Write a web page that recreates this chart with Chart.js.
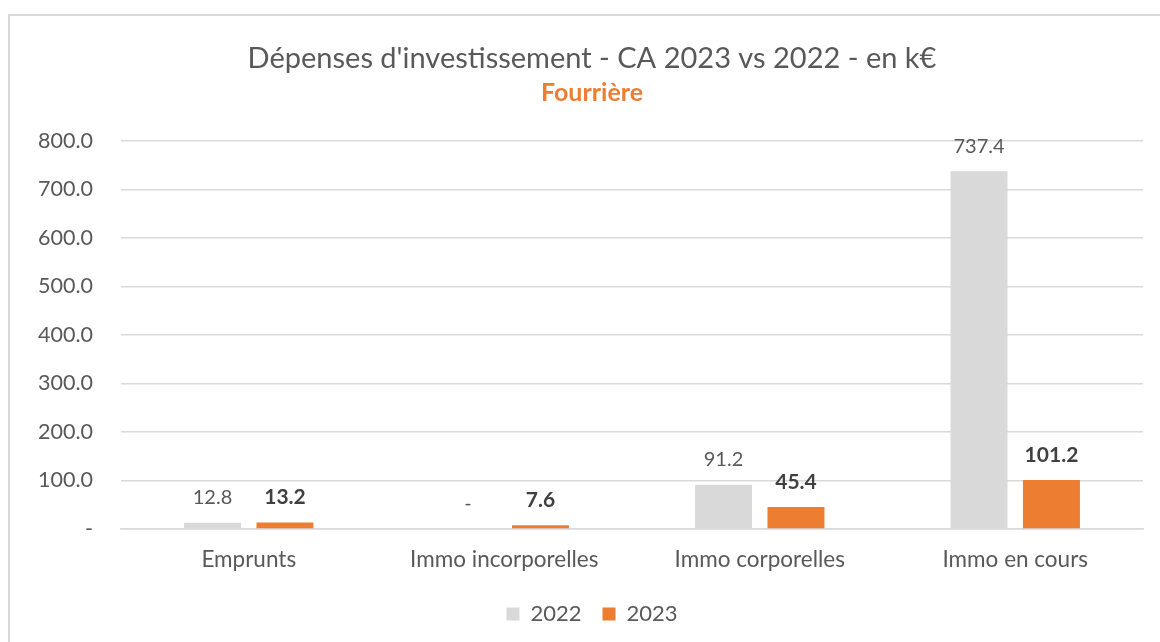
<!DOCTYPE html>
<html>
<head>
<meta charset="utf-8">
<script src="https://cdn.jsdelivr.net/npm/chart.js@4"></script>
<style>
  html, body { margin: 0; padding: 0; background: #fff; }
  #wrap { position: relative; width: 1160px; height: 642px; overflow: hidden; }
  #frame { position: absolute; left: 8px; top: 14px; width: 1200px; height: 700px; border: 2px solid #d9d9d9; box-sizing: border-box; }
  #chart { position: absolute; left: 0; top: 0; }
</style>
</head>
<body>
<div id="wrap">
  <div id="frame"></div>
  <canvas id="chart" width="1160" height="642"></canvas>
</div>
<script>
// Data
const categories = ["Emprunts", "Immo incorporelles", "Immo corporelles", "Immo en cours"];
const values2022 = [12.8, 0, 91.2, 737.4];
const values2023 = [13.2, 7.6, 45.4, 101.2];
const seriesLabels = ["2022", "2023"];
const yTicks = [0, 100, 200, 300, 400, 500, 600, 700, 800];

const FONT = "Lato, 'Open Sans', sans-serif";
const TEXT = "#595959";

function fmt(v) {
  return v === 0 ? "-" : v.toFixed(1);
}

// Value labels above each bar (no datalabels plugin available)
const barLabels = {
  id: "barLabels",
  afterDatasetsDraw(chart) {
    const ctx = chart.ctx;
    chart.data.datasets.forEach((ds, i) => {
      const meta = chart.getDatasetMeta(i);
      meta.data.forEach((bar, j) => {
        ctx.save();
        if (i === 1) {
          ctx.font = "bold 21px " + FONT;
          ctx.fillStyle = "#404040";
        } else {
          ctx.font = "20px " + FONT;
          ctx.fillStyle = TEXT;
        }
        ctx.textAlign = "center";
        ctx.textBaseline = "middle";
        ctx.fillText(fmt(ds.data[j]), bar.x, bar.y - 25);
        ctx.restore();
      });
    });
  }
};

// The original frame is wider than the visible crop, so title and legend sit a bit right of centre
const shiftBlocks = {
  id: "shiftBlocks",
  afterLayout(chart) {
    chart.boxes.forEach(b => {
      if (b.axis === undefined) b.left += 41;
    });
  }
};

new Chart(document.getElementById("chart"), {
  type: "bar",
  data: {
    labels: categories,
    datasets: [
      { label: seriesLabels[0], data: values2022, backgroundColor: "#d9d9d9" },
      { label: seriesLabels[1], data: values2023, backgroundColor: "#ed7d31" }
    ]
  },
  options: {
    responsive: false,
    animation: false,
    devicePixelRatio: 1,
    categoryPercentage: 0.567,
    barPercentage: 0.786,
    layout: { padding: { left: 0, right: 17, top: 24, bottom: 7 } },
    plugins: {
      title: {
        display: true,
        text: "Dépenses d'investissement - CA 2023 vs 2022 - en k€",
        color: TEXT,
        font: { family: FONT, size: 29, weight: "normal" },
        padding: { top: 17, bottom: 2 }
      },
      subtitle: {
        display: true,
        text: "Fourrière",
        color: "#ed7d31",
        font: { family: FONT, size: 25, weight: "bold" },
        padding: { top: 0, bottom: 33 }
      },
      legend: {
        position: "bottom",
        labels: {
          color: TEXT,
          font: { family: FONT, size: 22 },
          boxWidth: 13,
          boxHeight: 13,
          padding: 21
        }
      },
      tooltip: { enabled: false }
    },
    scales: {
      x: {
        grid: { display: false },
        border: { display: true, color: "#d9d9d9", width: 1.5 },
        ticks: { color: TEXT, font: { family: FONT, size: 22.5 }, padding: 9 }
      },
      y: {
        min: 0,
        max: 800,
        afterFit(scale) { scale.width = 121; },
        afterBuildTicks(scale) { scale.ticks = yTicks.map(v => ({ value: v })); },
        grid: { color: "#d9d9d9", lineWidth: 1.5, drawTicks: false },
        border: { display: false },
        ticks: {
          color: TEXT,
          font: { family: FONT, size: 21.5 },
          padding: 28,
          callback: v => fmt(v)
        }
      }
    }
  },
  plugins: [barLabels, shiftBlocks]
});
</script>
</body>
</html>
